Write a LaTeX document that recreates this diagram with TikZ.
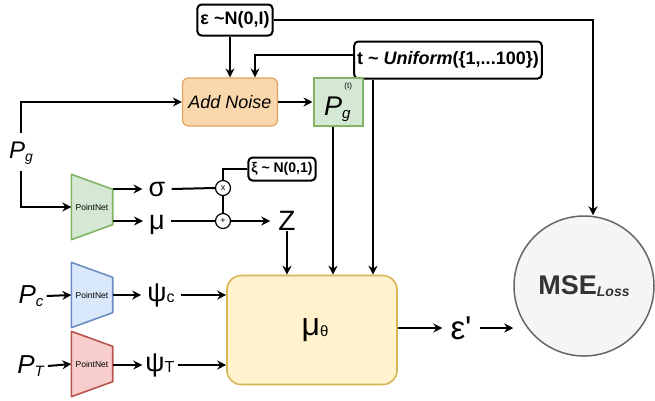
\documentclass[tikz,border=0pt]{standalone}
\usepackage{fontspec}
\setmainfont{Liberation Sans}
\usetikzlibrary{arrows.meta,backgrounds}
\definecolor{noisefill}{HTML}{FAD7AC}
\definecolor{noiseline}{HTML}{E0A35E}
\definecolor{gnfill}{HTML}{D5E8D4}
\definecolor{gnline}{HTML}{82B366}
\definecolor{blfill}{HTML}{DAE8FC}
\definecolor{blline}{HTML}{6C8EBF}
\definecolor{rdfill}{HTML}{F8CECC}
\definecolor{rdline}{HTML}{B85450}
\definecolor{ylfill}{HTML}{FFF2CC}
\definecolor{ylline}{HTML}{D6B656}
\definecolor{lossfill}{HTML}{F5F5F5}
\definecolor{lossline}{HTML}{666666}
\definecolor{losstext}{HTML}{333333}
\newcommand{\lowtxt}[3][0.45ex]{\raisebox{-#1}{\fontsize{#2}{#2}\selectfont #3}}

\begin{document}
\begin{tikzpicture}
[x=1pt,y=-1pt,%
  every node/.style={inner sep=0pt},%
  conn/.style={-{Stealth[length=9pt,width=9pt,inset=3pt]},line width=2pt},%
  wire/.style={line width=2pt},%
  tagbox/.style={draw,fill=white,rounded corners=4pt,line width=2pt,inner xsep=3pt,font=\bfseries\fontsize{18}{20}\selectfont},%
  sym/.style={inner xsep=6pt,font=\fontsize{27}{29}\selectfont},%
  biglbl/.style={inner xsep=3pt,font=\fontsize{26}{28}\selectfont},%
  pnet/.style={minimum width=41,minimum height=65,font=\fontsize{8.5}{9}\selectfont},%
  opcirc/.style={draw,circle,line width=1.2pt,minimum size=15,fill=white,font=\fontsize{9}{9}\selectfont}]
\useasboundingbox (0,0) rectangle (655,400);
\node[tagbox,minimum height=31] (eps) at (235,20) {ε \textasciitilde N(0,I)};
\node[tagbox,minimum height=37] (tdist) at (448,60) {t \textasciitilde{} \textit{Uniform}(\{1,...100\})};
\node[draw=noiseline,fill=noisefill,rounded corners=6pt,line width=1.2pt,minimum width=95,minimum height=48,font=\itshape\fontsize{18}{20}\selectfont] (noise) at (230,102) {Add Noise};
\node[draw=gnline,fill=gnfill,line width=2pt,minimum width=49,minimum height=48,font=\fontsize{27}{28}\selectfont] (pgt) at (338,102) {\textit{P}\lowtxt[0.25ex]{15}{\textit{g}}\hspace{-6pt}\raisebox{1.9ex}{\fontsize{8}{8}\selectfont(t)}};
\node[font=\fontsize{24}{26}\selectfont] (pg) at (21,153) {\textit{P}\lowtxt[0.2ex]{14}{\textit{g}}};
\node[pnet] (pnG) at (92,207) {PointNet};
\node[pnet] (pnC) at (92,295) {PointNet};
\node[pnet] (pnT) at (92,364) {PointNet};
\begin{scope}[on background layer]
\foreach \n/\c in {pnG/gn,pnC/bl,pnT/rd}
  \filldraw[fill=\c fill,draw=\c line,line width=1.6pt,line join=round]
    (\n.north west) -- ([yshift=-15pt]\n.north east) -- ([yshift=15pt]\n.south east) -- (\n.south west) -- cycle;
\end{scope}
\node[sym] (sig) at (157,189) {σ};
\node[sym] (mu) at (157,225) {μ};
\node[opcirc] (mul) at (223,188) {x};
\node[opcirc] (add) at (223,221) {+};
\node[tagbox,minimum height=23,font=\bfseries\fontsize{14}{16}\selectfont] (xi) at (282,169) {ξ \textasciitilde{} N(0,1)};
\node[sym,inner xsep=8pt,font=\fontsize{28}{30}\selectfont] (z) at (287,221) {Z};
\node[biglbl] (pc) at (31,296) {\textit{P}\lowtxt[0.2ex]{15}{\textit{c}}};
\node[biglbl] (pt) at (31,366) {\textit{P}\lowtxt[0.2ex]{15}{\textit{T}}};
\node[sym] (psic) at (161,295) {ψ\lowtxt[0.1ex]{16}{c}};
\node[sym,inner xsep=3pt] (psit) at (160,365) {ψ\lowtxt[0.1ex]{16}{T}};
\node[draw=ylline,fill=ylfill,rounded corners=14pt,line width=1.6pt,minimum width=170,minimum height=109,font=\fontsize{32}{34}\selectfont] (den) at (312,330) {\hspace{6pt}μ\lowtxt[0.05ex]{15}{θ}};
\node[sym,inner xsep=8pt,font=\fontsize{33}{35}\selectfont] (epsp) at (461,328) {ε\textquotesingle};
\node[draw=lossline,fill=lossfill,circle,line width=1.5pt,minimum size=140,text=losstext,font=\bfseries\fontsize{27}{28}\selectfont] (mse) at (584,286) {MSE\lowtxt[0.1ex]{14}{\textit{Loss}}};
\draw[conn] (noise.north |- eps.south) -- (noise.north);
\draw[conn] (eps.east) -| ([xshift=9pt]mse.north);
\draw[conn] ([yshift=5pt]tdist.west) -| ([xshift=25pt]noise.north);
\draw[conn] ([xshift=-75pt]tdist.south) -- ([xshift=-75pt]tdist.south |- den.north);
\draw[conn] (noise.east) -- (pgt.west);
\draw[conn] ([xshift=-5pt]pgt.south) -- ([xshift=-5pt]pgt.south |- den.north);
\draw[conn] ([yshift=9pt]pg.north) |- (noise.west);
\draw[conn] ([yshift=-7pt]pg.south) |- (pnG.west);
\draw[conn] (pnG.east |- sig) -- (sig.west);
\draw[conn] (pnG.east |- add) -- (mu.west |- add);
\draw[wire] (sig.east) -- (mul.west);
\draw[wire] (mu.east |- add) -- (add.west);
\draw[wire] (mul.north) |- (xi.west);
\draw[wire] (mul.south) -- (add.north);
\draw[conn] (add.east) -- (z.west);
\draw[conn] (z.south) -- (z.south |- den.north);
\draw[conn] (pc.east) -- (pnC.west);
\draw[conn] (pt.east) -- (pnT.west);
\draw[conn] (pnC.east |- psic) -- (psic.west);
\draw[conn] (pnT.east |- psit) -- (psit.west);
\draw[conn] (psic.east) -- (den.west |- psic);
\draw[conn] (psit.east) -- (den.west |- psit);
\draw[conn] (den.east |- epsp) -- (epsp.west);
\draw[conn] (epsp.east) -- (epsp.east -| mse.west);
\end{tikzpicture}
\end{document}
